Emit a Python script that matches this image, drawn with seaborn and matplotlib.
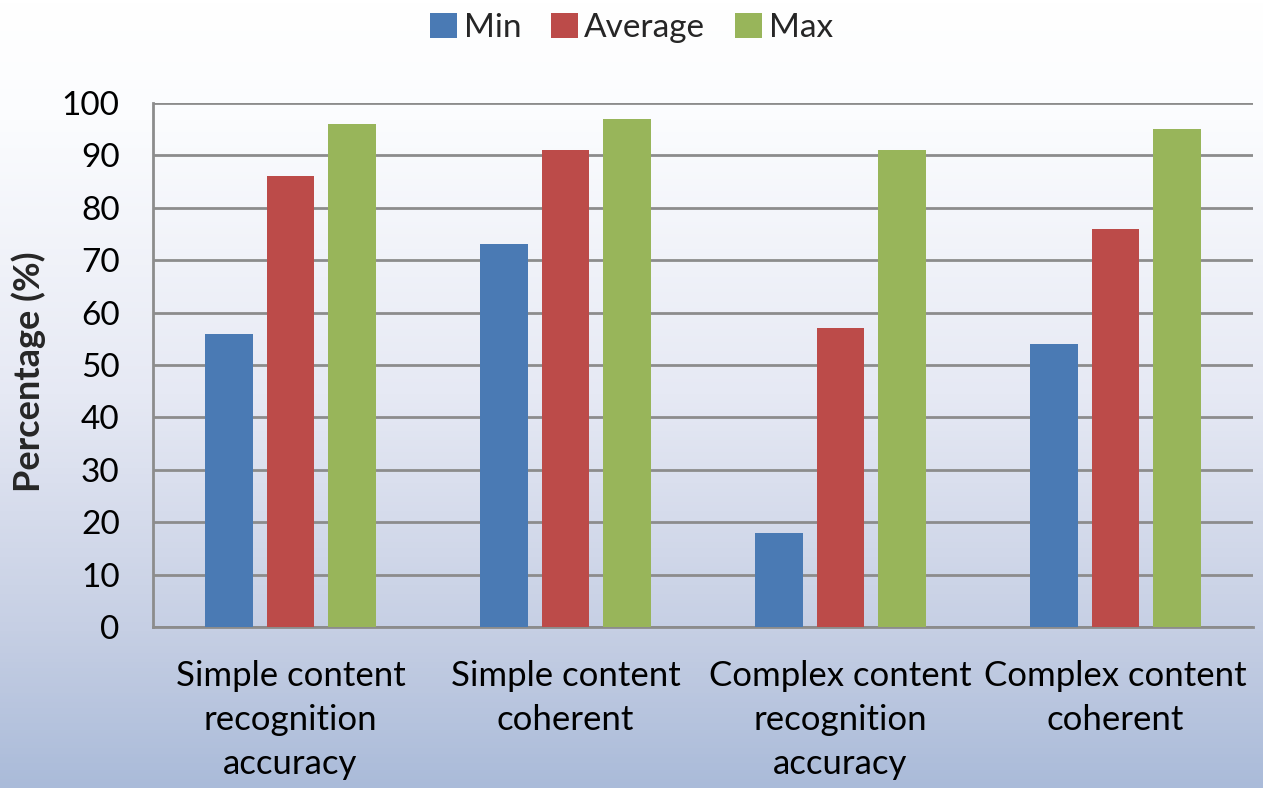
import numpy as np
import pandas as pd
import matplotlib
matplotlib.use("Agg")
import matplotlib.pyplot as plt
from matplotlib.colors import LinearSegmentedColormap
import seaborn as sns

categories = ["Simple content\nrecognition\naccuracy",
              "Simple content\ncoherent",
              "Complex content\nrecognition\naccuracy",
              "Complex content\ncoherent"]
series = ["Min", "Average", "Max"]
min_vals = [56, 73, 18, 54]
avg_vals = [86, 91, 57, 76]
max_vals = [96, 97, 91, 95]
colors = ["#4A7AB4", "#BC4B49", "#98B55A"]

df = pd.DataFrame({
    "category": categories * 3,
    "series": sum([[s] * 4 for s in series], []),
    "value": min_vals + avg_vals + max_vals,
})

sns.set_theme(style="white")
plt.rcParams["font.family"] = ["Lato", "DejaVu Sans"]

fig = plt.figure(figsize=(12.63, 7.88), dpi=100)

# gradient background
bg = fig.add_axes([0, 0, 1, 1], zorder=-10)
cmap = LinearSegmentedColormap.from_list(
    "bg", [(0.0, "#ffffff"), (0.15, "#fbfcfe"), (0.5, "#e6e9f4"),
           (0.8, "#c6cfe4"), (1.0, "#aabbd9")])
grad = np.linspace(0, 1, 256).reshape(-1, 1)
bg.imshow(grad, aspect="auto", cmap=cmap, extent=[0, 1, 0, 1], origin="upper")
bg.set_axis_off()

ax = fig.add_axes([153 / 1263, 1 - 627 / 788, 1100 / 1263, 524 / 788])
ax.patch.set_alpha(0)

sns.barplot(data=df, x="category", y="value", hue="series", palette=colors,
            width=0.67, gap=0.22, ax=ax, legend=True, zorder=3,
            saturation=1, edgecolor="none")

ax.set_ylim(0, 100)
ax.set_xlim(-0.5, 3.5)
ax.set_yticks(range(0, 101, 10))
ax.yaxis.grid(True, color="#8c8c8c", linewidth=2, zorder=0)
ax.set_axisbelow(True)
for s in ["top", "right"]:
    ax.spines[s].set_visible(False)
for s in ["left", "bottom"]:
    ax.spines[s].set_color("#8c8c8c")
    ax.spines[s].set_linewidth(2)
ax.tick_params(axis="y", labelsize=24, length=0, pad=24, colors="black")
ax.tick_params(axis="x", labelsize=25, length=0, pad=24, colors="black")
ax.set_xlabel("")
ax.set_ylabel("Percentage (%)", fontsize=26, fontweight="bold")
ax.yaxis.set_label_coords(-(153 - 46) / 1100, (627 - 372) / 524)
for t in ax.get_xticklabels():
    t.set_linespacing(1.45)

handles, labels = ax.get_legend_handles_labels()
ax.get_legend().remove()
fig.legend(handles, labels, loc="center", bbox_to_anchor=(0.5, 1 - 28 / 788),
           ncol=3, frameon=False, fontsize=24, handlelength=0.8,
           handleheight=0.8, handletextpad=0.2, columnspacing=0.9)

fig.savefig("out.png", dpi=100)
